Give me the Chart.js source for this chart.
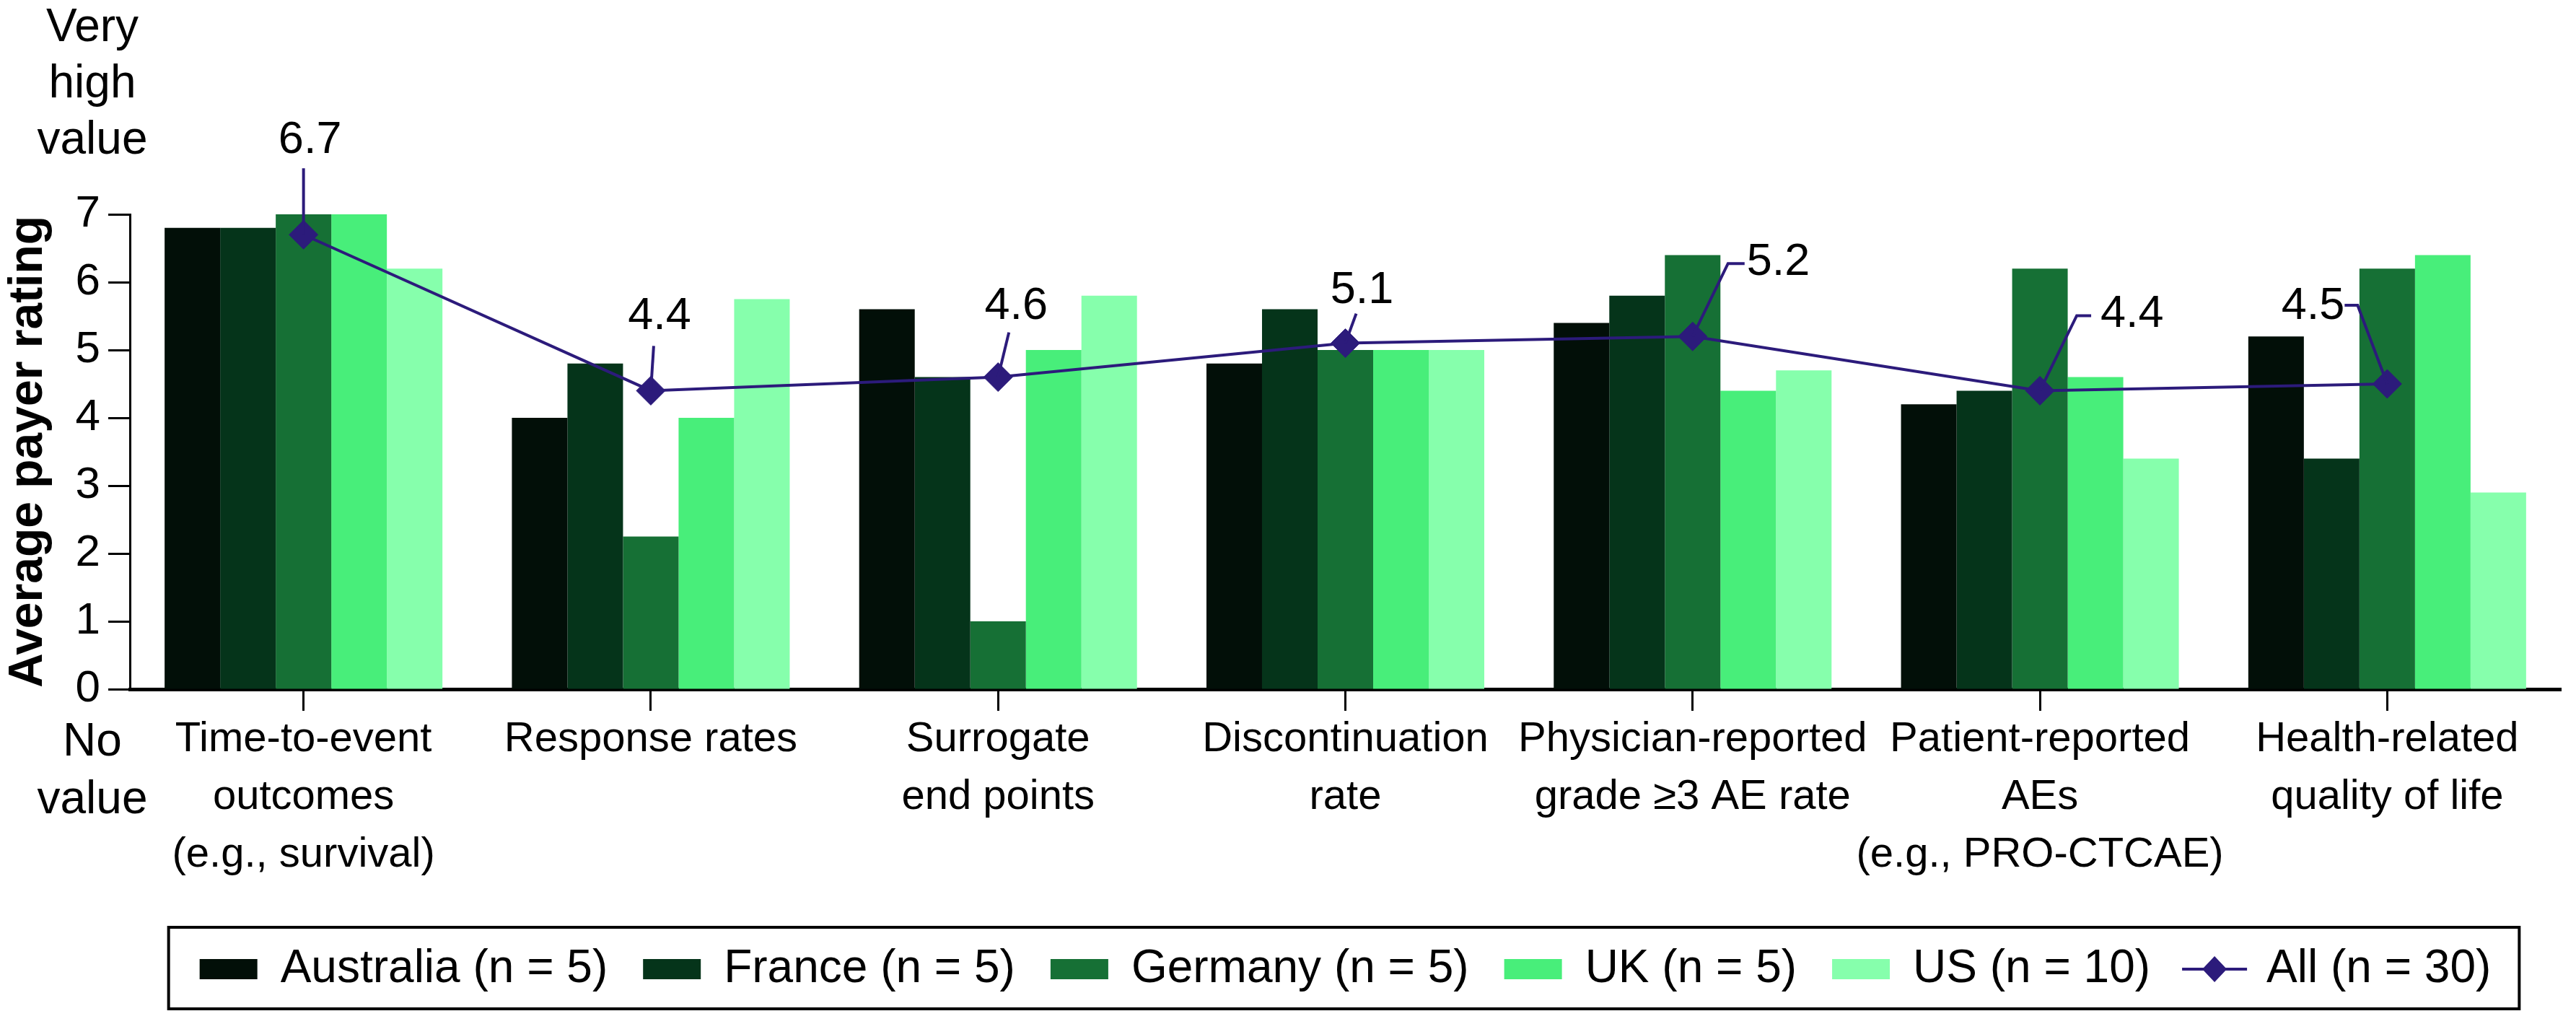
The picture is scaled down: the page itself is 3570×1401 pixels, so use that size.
<!DOCTYPE html>
<html>
<head>
<meta charset="utf-8">
<title>Average payer rating</title>
<script src="https://cdn.jsdelivr.net/npm/chart.js@4.4.1/dist/chart.umd.min.js"></script>
<style>
  html, body { margin: 0; padding: 0; background: #fff; }
  canvas { display: block; }
</style>
</head>
<body>
<canvas id="chart" width="3570" height="1401"></canvas>
<script>
// categories (multi-line labels)
const categories = [
  ['Time-to-event', 'outcomes', '(e.g., survival)'],
  ['Response rates'],
  ['Surrogate', 'end points'],
  ['Discontinuation', 'rate'],
  ['Physician-reported', 'grade \u22653 AE rate'],
  ['Patient-reported', 'AEs', '(e.g., PRO-CTCAE)'],
  ['Health-related', 'quality of life']
];

// average payer rating per country
const australia = [6.8, 4.0, 5.6, 4.8, 5.4, 4.2, 5.2];
const france    = [6.8, 4.8, 4.6, 5.6, 5.8, 4.4, 3.4];
const germany   = [7.0, 2.25, 1.0, 5.0, 6.4, 6.2, 6.2];
const uk        = [7.0, 4.0, 5.0, 5.0, 4.4, 4.6, 6.4];
const us        = [6.2, 5.75, 5.8, 5.0, 4.7, 3.4, 2.9];
const all       = [6.7, 4.4, 4.6, 5.1, 5.2, 4.4, 4.5];

const seriesNames = ['Australia (n = 5)', 'France (n = 5)', 'Germany (n = 5)', 'UK (n = 5)', 'US (n = 10)', 'All (n = 30)'];
const yMin = 0;
const yMax = 7;
const topNote = ['Very', 'high', 'value'];
const bottomNote = ['No', 'value'];

const colors = ['#020f08', '#05341a', '#167035', '#48ee7a', '#86ffac'];
const lineColor = '#2c1b7b';
const FONT = "'Liberation Sans', Arial, Helvetica, sans-serif";

// leader lines for the "All" labels, offsets from each diamond
const callouts = [
  { path: [[0, 0], [0, -92]], text: [9, -113], align: 'center' },
  { path: [[0, 0], [4, -62]], text: [12, -85], align: 'center' },
  { path: [[0, 0], [15, -62]], text: [25, -81], align: 'center' },
  { path: [[0, 0], [15, -41]], text: [23, -56], align: 'center' },
  { path: [[0, 0], [49, -101], [72, -101]], text: [75, -85], align: 'left' },
  { path: [[0, 0], [51, -104], [71, -104]], text: [84, -88], align: 'left' },
  { path: [[0, 0], [-41, -109], [-59, -109]], text: [-59, -90], align: 'right' }
];

Chart.defaults.font.family = FONT;
Chart.defaults.color = '#000';

const extras = {
  id: 'extras',
  afterDraw(chart) {
    const ctx = chart.ctx;
    const yScale = chart.scales.y;
    const meta = chart.getDatasetMeta(5);

    ctx.save();
    // callouts
    ctx.strokeStyle = lineColor;
    ctx.lineWidth = 4;
    ctx.fillStyle = '#000';
    ctx.font = '63px ' + FONT;
    ctx.textBaseline = 'alphabetic';
    meta.data.forEach((pt, i) => {
      const c = callouts[i];
      ctx.beginPath();
      c.path.forEach(([dx, dy], k) => {
        if (k === 0) ctx.moveTo(pt.x + dx, pt.y + dy);
        else ctx.lineTo(pt.x + dx, pt.y + dy);
      });
      ctx.stroke();
      ctx.textAlign = c.align;
      ctx.fillText(all[i].toFixed(1), pt.x + c.text[0], pt.y + c.text[1]);
    });

    // side notes
    ctx.font = '64px ' + FONT;
    ctx.textAlign = 'center';
    const nx = yScale.right - 52;
    const yTop = yScale.getPixelForValue(yMax);
    const yBot = yScale.getPixelForValue(yMin);
    topNote.forEach((t, k) => ctx.fillText(t, nx, yTop - 240 + k * 78));
    bottomNote.forEach((t, k) => ctx.fillText(t, nx, yBot + 92 + k * 80));

    // legend frame and line marker
    const boxes = chart.legend.legendHitBoxes;
    if (boxes && boxes.length) {
      const first = boxes[0];
      const last = boxes[boxes.length - 1];
      const cy = first.top + first.height / 2;
      ctx.strokeStyle = '#000';
      ctx.lineWidth = 4;
      ctx.strokeRect(first.left - 43, cy - 58, last.left + last.width + 39 - (first.left - 43), 113);

      const lb = boxes[5];
      const lx = lb.left + 40;
      const ly = lb.top + lb.height / 2;
      ctx.strokeStyle = lineColor;
      ctx.beginPath();
      ctx.moveTo(lb.left - 5, ly);
      ctx.lineTo(lb.left + 85, ly);
      ctx.stroke();
      ctx.fillStyle = lineColor;
      ctx.beginPath();
      ctx.moveTo(lx - 17, ly);
      ctx.lineTo(lx, ly - 18);
      ctx.lineTo(lx + 17, ly);
      ctx.lineTo(lx, ly + 18);
      ctx.closePath();
      ctx.fill();
    }
    ctx.restore();
  }
};

const barSeries = [australia, france, germany, uk, us];
const datasets = barSeries.map((vals, i) => ({
  label: seriesNames[i],
  data: vals,
  backgroundColor: colors[i],
  borderWidth: 0,
  barPercentage: 1,
  categoryPercentage: 0.8,
  order: 1
}));
datasets.push({
  type: 'line',
  label: seriesNames[5],
  data: all,
  borderColor: lineColor,
  backgroundColor: lineColor,
  borderWidth: 4,
  pointStyle: 'rectRot',
  pointRadius: 20,
  pointHoverRadius: 20,
  pointBackgroundColor: lineColor,
  pointBorderColor: lineColor,
  pointBorderWidth: 1,
  tension: 0,
  order: 0
});

new Chart(document.getElementById('chart').getContext('2d'), {
  type: 'bar',
  data: { labels: categories, datasets: datasets },
  options: {
    responsive: false,
    devicePixelRatio: 1,
    animation: false,
    events: [],
    layout: { padding: { top: 297, right: 20, bottom: 16, left: 0 } },
    plugins: {
      tooltip: { enabled: false },
      legend: {
        position: 'bottom',
        fullSize: false,
        labels: {
          font: { size: 64 },
          color: '#000',
          boxWidth: 80,
          boxHeight: 28,
          padding: 49,
          sort: (a, b) => a.datasetIndex - b.datasetIndex,
          generateLabels(chart) {
            const items = Chart.defaults.plugins.legend.labels.generateLabels(chart);
            items.forEach(it => {
              if (it.datasetIndex === 5) {
                it.fillStyle = 'rgba(0,0,0,0)';
                it.strokeStyle = 'rgba(0,0,0,0)';
                it.lineWidth = 0;
              }
            });
            return items;
          }
        }
      }
    },
    scales: {
      x: {
        grid: { offset: false, drawOnChartArea: false, tickLength: 30, tickWidth: 3, tickColor: '#000' },
        border: { color: '#000', width: 5 },
        ticks: { font: { size: 58, lineHeight: 1.38 }, color: '#000', padding: 0, maxRotation: 0, autoSkip: false },
        afterFit(scale) { scale.height = 307; }
      },
      y: {
        min: yMin,
        max: yMax,
        ticks: { stepSize: 1, font: { size: 62 }, color: '#000', padding: 11 },
        grid: { drawOnChartArea: false, tickLength: 30, tickWidth: 3, tickColor: '#000' },
        border: { color: '#000', width: 3 },
        title: {
          display: true,
          text: 'Average payer rating',
          font: { size: 66, weight: 'bold' },
          color: '#000',
          padding: 0
        },
        afterFit(scale) { scale.width = 180; }
      }
    }
  },
  plugins: [extras]
});
</script>
</body>
</html>
